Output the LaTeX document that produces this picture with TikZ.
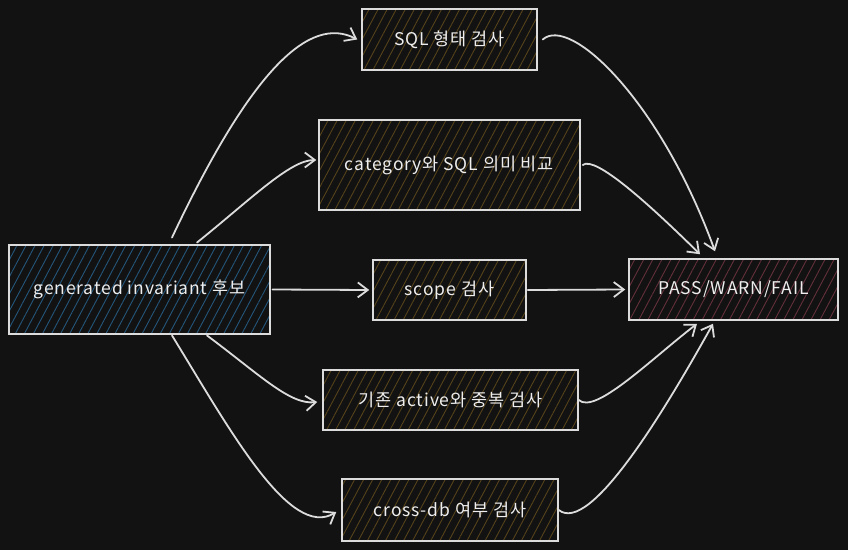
\documentclass[tikz,border=0pt]{standalone}
\usepackage{fontspec}
\setmainfont[LetterSpace=5]{Noto Sans CJK KR}
\usetikzlibrary{arrows.meta,patterns.meta}
\definecolor{bgc}{HTML}{121212}
\definecolor{strokec}{HTML}{DCDCDC}
\definecolor{textc}{HTML}{EEEEEE}
\definecolor{hblue}{HTML}{24557A}
\definecolor{hgold}{HTML}{55421A}
\definecolor{hred}{HTML}{63303A}
\begin{document}
\begin{tikzpicture}[x=1pt,y=1pt,
  box/.style={draw=strokec, line width=1.5pt, text=textc,
    font=\fontsize{17.5}{20}\selectfont, inner sep=0pt, anchor=center},
  hatch/.style={pattern={Lines[angle=62,distance=8pt,line width=0.9pt]}, pattern color=#1},
  conn/.style={draw=strokec, line width=1.8pt, line cap=round,
    -{Straight Barb[length=10pt,width=15pt,line width=1.8pt]}}
]
\fill[bgc] (0,0) rectangle (848,550);
\useasboundingbox (0,0) rectangle (848,550);

\node[box, hatch=hblue, minimum width=261pt, minimum height=89pt] (gen) at (139.5,260.5) {generated invariant 후보};
\node[box, hatch=hgold, minimum width=175pt, minimum height=61pt] (sql) at (449.5,510.5) {SQL 형태 검사};
\node[box, hatch=hgold, minimum width=261pt, minimum height=90pt] (cat) at (449.5,385) {category와 SQL 의미 비교};
\node[box, hatch=hgold, minimum width=153pt, minimum height=60pt] (scope) at (449.5,260) {scope 검사};
\node[box, hatch=hgold, minimum width=255pt, minimum height=60pt] (act) at (450.5,150) {기존 active와 중복 검사};
\node[box, hatch=hgold, minimum width=216pt, minimum height=62pt] (cross) at (450,40) {cross-db 여부 검사};
\node[box, hatch=hred, minimum width=209pt, minimum height=61pt] (pass) at (733.5,260.5) {PASS/WARN/FAIL};

% left fan
\draw[conn] ([xshift=32.5pt,yshift=7pt]gen.north) .. controls (252,482) and (310,535) .. ([xshift=-4pt]sql.west);
\draw[conn] ([xshift=57.5pt,yshift=2pt]gen.north) .. controls (250,350) and (290,390) .. ([xshift=-2pt,yshift=5pt]cat.west);
\draw[conn] ([xshift=2pt]gen.east) -- ([xshift=-3pt]scope.west);
\draw[conn] ([xshift=67.5pt,yshift=-1pt]gen.south) .. controls (260,175) and (290,145) .. ([xshift=-5pt,yshift=-2pt]act.west);
\draw[conn] ([xshift=32.5pt,yshift=-1pt]gen.south) .. controls (230,120) and (290,10) .. ([xshift=-5pt,yshift=-2pt]cross.west);

% right fan
\draw[conn] ([xshift=5pt]sql.east) .. controls (570,535) and (660,450) .. ([xshift=-18.5pt,yshift=7pt]pass.north);
\draw[conn] ([xshift=2pt]cat.east) .. controls (595,395) and (650,345) .. ([xshift=-33.5pt,yshift=4pt]pass.north);
\draw[conn] ([xshift=1pt]scope.east) -- ([xshift=-3pt]pass.west);
\draw[conn] (act.east) .. controls (595,135) and (650,190) .. ([xshift=-36.5pt,yshift=-3pt]pass.south);
\draw[conn] (cross.east) .. controls (590,15) and (665,140) .. ([xshift=-20.5pt,yshift=-3pt]pass.south);
\end{tikzpicture}
\end{document}
